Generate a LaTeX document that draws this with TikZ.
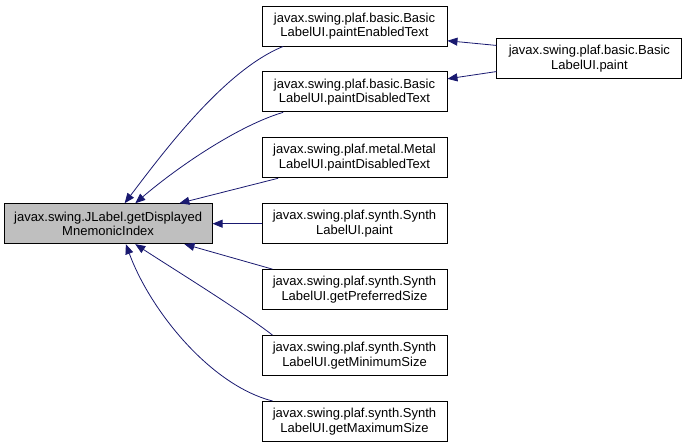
\documentclass[tikz,border=0pt]{standalone}
\usepackage{fontspec}
\setmainfont{Liberation Sans}
\usetikzlibrary{arrows.meta, positioning}
\definecolor{edgeblue}{HTML}{191970}
\definecolor{maingray}{HTML}{BFBFBF}

\begin{document}
\begin{tikzpicture}[
        x=1pt, y=-1pt,
        node distance=25pt,
        func/.style={rectangle, draw=black, fill=white, line width=0.9pt, minimum width=185pt, minimum height=40pt, align=center, inner sep=2pt, font=\fontsize{13}{14.5}\selectfont},
        focus/.style={func, fill=maingray, minimum width=208pt},
        arrow/.style={-{Triangle[length=10pt,width=8pt,fill=edgeblue]}, draw=edgeblue, line width=0.8pt}
    ]
    \useasboundingbox (0,0) rectangle (685,444);

    \node[func] (enabled) at (354.5,26) {javax.swing.plaf.basic.Basic\\LabelUI.paintEnabledText};
    \node[func, below=of enabled] (disabled) {javax.swing.plaf.basic.Basic\\LabelUI.paintDisabledText};
    \node[func, below=of disabled] (metal) {javax.swing.plaf.metal.Metal\\LabelUI.paintDisabledText};
    \node[func, below=of metal] (synpaint) {javax.swing.plaf.synth.Synth\\LabelUI.paint};
    \node[func, below=of synpaint] (synpref) {javax.swing.plaf.synth.Synth\\LabelUI.getPreferredSize};
    \node[func, below=of synpref] (synmin) {javax.swing.plaf.synth.Synth\\LabelUI.getMinimumSize};
    \node[func, below=of synmin] (synmax) {javax.swing.plaf.synth.Synth\\LabelUI.getMaximumSize};
    \node[focus, left=49pt of synpaint] (mnemonic) {javax.swing.JLabel.getDisplayed\\MnemonicIndex};
    \node[func, right=49pt of enabled, yshift=-32.5pt] (basicpaint) {javax.swing.plaf.basic.Basic\\LabelUI.paint};

    \draw[arrow] (enabled.196) .. controls (225,70) and (165,150) .. (mnemonic.51);
    \draw[arrow] (disabled.196) .. controls (240,125) and (180,165) .. (mnemonic.37);
    \draw[arrow] (metal.195) -- (mnemonic.16);
    \draw[arrow] (synpaint) -- (mnemonic);
    \draw[arrow] (synpref.166) -- (mnemonic.345);
    \draw[arrow] (synmin.166) .. controls (240,310) and (175,270) .. (mnemonic.323);
    \draw[arrow] (synmax.166) .. controls (210,385) and (150,310) .. (mnemonic.311);
    \draw[arrow] (basicpaint.172) -- (enabled.351);
    \draw[arrow] (basicpaint.188) -- (disabled.8);
\end{tikzpicture}
\end{document}
